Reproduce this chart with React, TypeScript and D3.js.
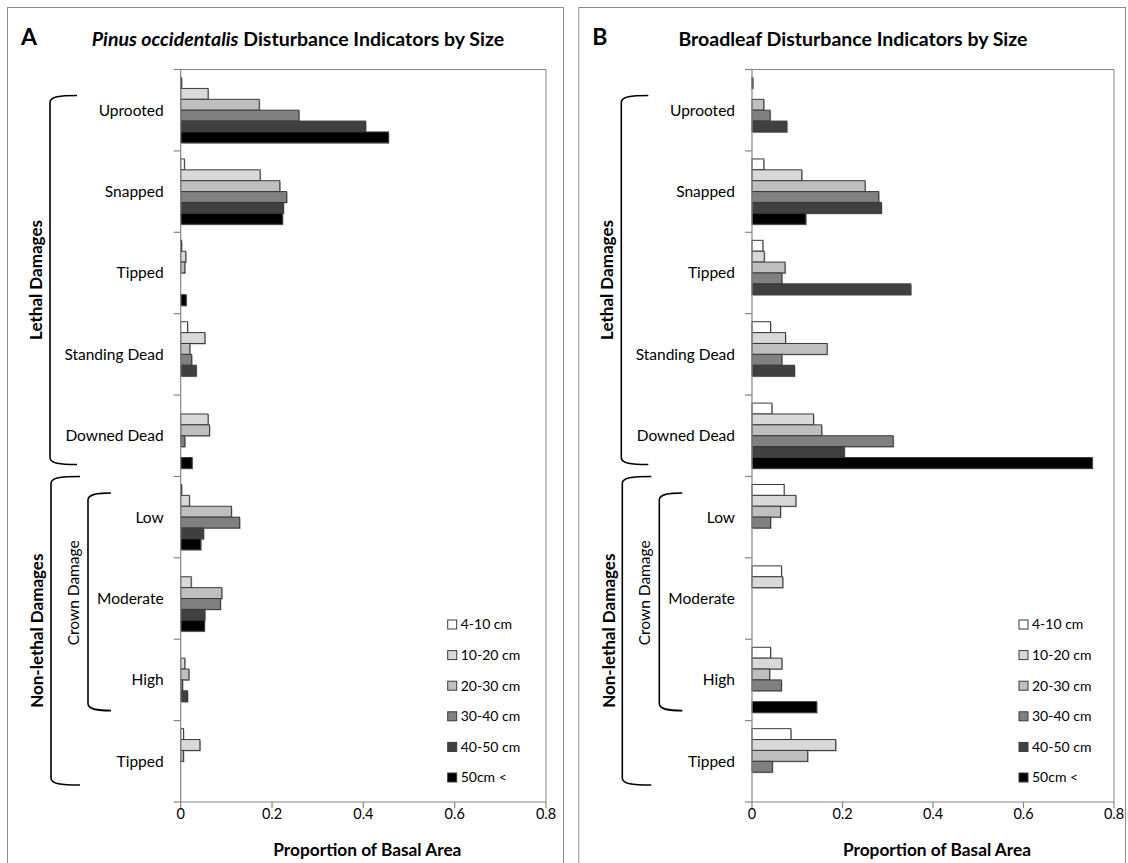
import React from "react";
import * as d3 from "d3";

// Damage categories, top to bottom
const categories = [
  "Uprooted",
  "Snapped",
  "Tipped",
  "Standing Dead",
  "Downed Dead",
  "Low",
  "Moderate",
  "High",
  "Tipped",
];

// Stem diameter classes
const sizeClasses = ["4-10 cm", "10-20 cm", "20-30 cm", "30-40 cm", "40-50 cm", "50cm <"];
const sizeFills = ["#FFFFFF", "#D9D9D9", "#BFBFBF", "#808080", "#404040", "#000000"];

const xTicks = [0, 0.2, 0.4, 0.6, 0.8];

// Pinus occidentalis: proportion of basal area, one array per size class
const pinus4to10 = [0.002, 0.008, 0.002, 0.015, 0, 0.002, 0, 0, 0.006];
const pinus10to20 = [0.06, 0.174, 0.011, 0.053, 0.06, 0.019, 0.023, 0.009, 0.042];
const pinus20to30 = [0.172, 0.217, 0.009, 0.02, 0.063, 0.111, 0.09, 0.018, 0.006];
const pinus30to40 = [0.259, 0.232, 0, 0.024, 0.009, 0.129, 0.087, 0.004, 0];
const pinus40to50 = [0.405, 0.225, 0, 0.034, 0, 0.05, 0.053, 0.015, 0];
const pinus50plus = [0.455, 0.223, 0.012, 0, 0.025, 0.044, 0.052, 0, 0];

// Broadleaf species: proportion of basal area, one array per size class
const broad4to10 = [0.002, 0.026, 0.024, 0.041, 0.044, 0.071, 0.065, 0.041, 0.086];
const broad10to20 = [0, 0.11, 0.027, 0.074, 0.136, 0.097, 0.068, 0.066, 0.185];
const broad20to30 = [0.026, 0.25, 0.073, 0.166, 0.154, 0.063, 0, 0.039, 0.123];
const broad30to40 = [0.04, 0.28, 0.066, 0.066, 0.312, 0.041, 0, 0.065, 0.045];
const broad40to50 = [0.077, 0.286, 0.351, 0.094, 0.204, 0, 0, 0, 0];
const broad50plus = [0, 0.119, 0, 0, 0.752, 0, 0, 0.143, 0];

const pinusSeries = [pinus4to10, pinus10to20, pinus20to30, pinus30to40, pinus40to50, pinus50plus];
const broadSeries = [broad4to10, broad10to20, broad20to30, broad30to40, broad40to50, broad50plus];

const FONT = "Lato, 'Open Sans', sans-serif";
const AXIS_GREY = "#868686";

const PLOT_TOP = 69.5;
const PLOT_BOTTOM = 802;

function bracketPath(x: number, x2: number, top: number, bottom: number) {
  const r = 7;
  return [
    `M${x2},${top}`,
    `C${x + 10},${top} ${x},${top + 1} ${x},${top + r}`,
    `L${x},${bottom - r}`,
    `C${x},${bottom - 1} ${x + 10},${bottom} ${x2},${bottom}`,
  ].join(" ");
}

type PanelProps = {
  offset: number;
  xEnd: number;
  letter: string;
  title: React.ReactNode;
  titleX: number;
  frameRight: number;
  series: number[][];
};

function Panel({ offset, xEnd, letter, title, titleX, frameRight, series }: PanelProps) {
  const x0 = 180.7 + offset;
  const x = d3.scaleLinear().domain([0, 0.8]).range([x0, xEnd]);
  const y = d3
    .scaleBand<number>()
    .domain(d3.range(categories.length))
    .range([PLOT_TOP, PLOT_BOTTOM])
    .padding(0);
  const inner = d3
    .scaleBand<number>()
    .domain(d3.range(sizeClasses.length))
    .range([0, y.bandwidth()])
    .paddingInner(0)
    .paddingOuter(0.74);

  const band = y.bandwidth();
  const yStart = (i: number) => y(i) as number;

  // group annotation brackets
  const lethalTop = yStart(0) + 26;
  const lethalBottom = yStart(4) + band - 12;
  const nonTop = yStart(5);
  const nonBottom = yStart(8) + band - 17;
  const crownTop = yStart(5) + 16.5;
  const crownBottom = yStart(7) + band - 10;

  const bx = (v: number) => v + offset;

  const legendX = 447.7 + offset;

  return (
    <g>
      {/* panel frame */}
      <rect
        x={7.5 + offset}
        y={7.5}
        width={frameRight - (7.5 + offset)}
        height={900}
        fill="none"
        stroke="#8c8c8c"
        strokeWidth={1}
      />
      <text x={21 + offset} y={45} fontFamily={FONT} fontWeight="bold" fontSize={23} fill="#000">
        {letter}
      </text>
      <text x={titleX} y={46} fontFamily={FONT} fontWeight="bold" fontSize={19.5} textAnchor="middle" fill="#000">
        {title}
      </text>

      {/* plot area border */}
      <path
        d={`M${x0},${PLOT_TOP} L${xEnd},${PLOT_TOP} L${xEnd},${PLOT_BOTTOM}`}
        fill="none"
        stroke={AXIS_GREY}
        strokeWidth={1}
      />

      {/* bars */}
      {series.map((vals, s) =>
        vals.map((v, c) => {
          if (v <= 0) return null;
          const yy = yStart(c) + (inner(s) as number);
          const h = inner.bandwidth();
          const w = x(v) - x0;
          return (
            <g key={`b${s}-${c}`}>
              <rect x={x0 + 1} y={yy + 1} width={w} height={h} fill="#a6a6a6" />
              <rect x={x0} y={yy} width={w} height={h} fill={sizeFills[s]} stroke="#3a3a3a" strokeWidth={1} />
            </g>
          );
        })
      )}

      {/* y axis */}
      <line x1={x0} x2={x0} y1={PLOT_TOP} y2={PLOT_BOTTOM} stroke={AXIS_GREY} strokeWidth={1.2} />
      {d3.range(categories.length + 1).map((i) => {
        const yy = i < categories.length ? yStart(i) : PLOT_BOTTOM;
        return <line key={`yt${i}`} x1={x0 - 7} x2={x0} y1={yy} y2={yy} stroke={AXIS_GREY} strokeWidth={1.2} />;
      })}
      {categories.map((c, i) => (
        <text
          key={`yl${i}`}
          x={x0 - 17}
          y={yStart(i) + band / 2}
          dy="0.35em"
          textAnchor="end"
          fontFamily={FONT}
          fontSize={15.5}
          fill="#000"
        >
          {c}
        </text>
      ))}

      {/* x axis */}
      <line x1={x0} x2={xEnd} y1={PLOT_BOTTOM} y2={PLOT_BOTTOM} stroke={AXIS_GREY} strokeWidth={1.2} />
      {xTicks.map((t) => (
        <g key={`xt${t}`}>
          <line x1={x(t)} x2={x(t)} y1={PLOT_BOTTOM} y2={PLOT_BOTTOM + 6} stroke={AXIS_GREY} strokeWidth={1.2} />
          <text x={x(t)} y={819} textAnchor="middle" fontFamily={FONT} fontSize={14.5} fill="#000">
            {t === 0 ? "0" : d3.format(".1f")(t)}
          </text>
        </g>
      ))}
      <text
        x={(x0 + xEnd) / 2 + 4}
        y={856}
        textAnchor="middle"
        fontFamily={FONT}
        fontWeight="bold"
        fontSize={17.3}
        fill="#000"
      >
        Proportion of Basal Area
      </text>

      {/* group brackets and labels */}
      <path d={bracketPath(bx(50), bx(77), lethalTop, lethalBottom)} fill="none" stroke="#000" strokeWidth={1.6} />
      <path d={bracketPath(bx(51), bx(80), nonTop, nonBottom)} fill="none" stroke="#000" strokeWidth={1.6} />
      <path d={bracketPath(bx(88), bx(111), crownTop, crownBottom)} fill="none" stroke="#000" strokeWidth={1.6} />
      <text
        transform={`translate(${bx(36)},${(lethalTop + lethalBottom) / 2}) rotate(-90)`}
        textAnchor="middle"
        dy="0.35em"
        fontFamily={FONT}
        fontWeight="bold"
        fontSize={17}
        fill="#000"
      >
        Lethal Damages
      </text>
      <text
        transform={`translate(${bx(37.5)},${(nonTop + nonBottom) / 2}) rotate(-90)`}
        textAnchor="middle"
        dy="0.35em"
        fontFamily={FONT}
        fontWeight="bold"
        fontSize={17}
        fill="#000"
      >
        Non-lethal Damages
      </text>
      <text
        transform={`translate(${bx(73.5)},${(crownTop + crownBottom) / 2 - 9}) rotate(-90)`}
        textAnchor="middle"
        dy="0.35em"
        fontFamily={FONT}
        fontSize={15.5}
        fill="#000"
      >
        Crown Damage
      </text>

      {/* legend */}
      {sizeClasses.map((s, i) => {
        const cy = 624.5 + i * 30.6;
        return (
          <g key={`lg${i}`}>
            <rect x={legendX} y={cy - 4.5} width={9} height={9} fill={sizeFills[i]} stroke="#3a3a3a" strokeWidth={1} />
            <text x={legendX + 13} y={cy} dy="0.35em" fontFamily={FONT} fontSize={14} fill="#000">
              {s}
            </text>
          </g>
        );
      })}
    </g>
  );
}

export default function App() {
  return (
    <svg
      width={1128}
      height={863}
      viewBox="0 0 1128 863"
      style={{ position: "absolute", left: 0, top: 0, background: "#fff" }}
    >
      <rect x={0} y={0} width={1128} height={863} fill="#fff" />
      <Panel
        offset={0}
        xEnd={546}
        letter="A"
        titleX={298}
        frameRight={563.5}
        series={pinusSeries}
        title={
          <>
            <tspan fontStyle="italic">Pinus occidentalis</tspan> Disturbance Indicators by Size
          </>
        }
      />
      <Panel
        offset={571.3}
        xEnd={1114}
        letter="B"
        titleX={853}
        frameRight={1125.5}
        series={broadSeries}
        title={<>Broadleaf Disturbance Indicators by Size</>}
      />
    </svg>
  );
}
